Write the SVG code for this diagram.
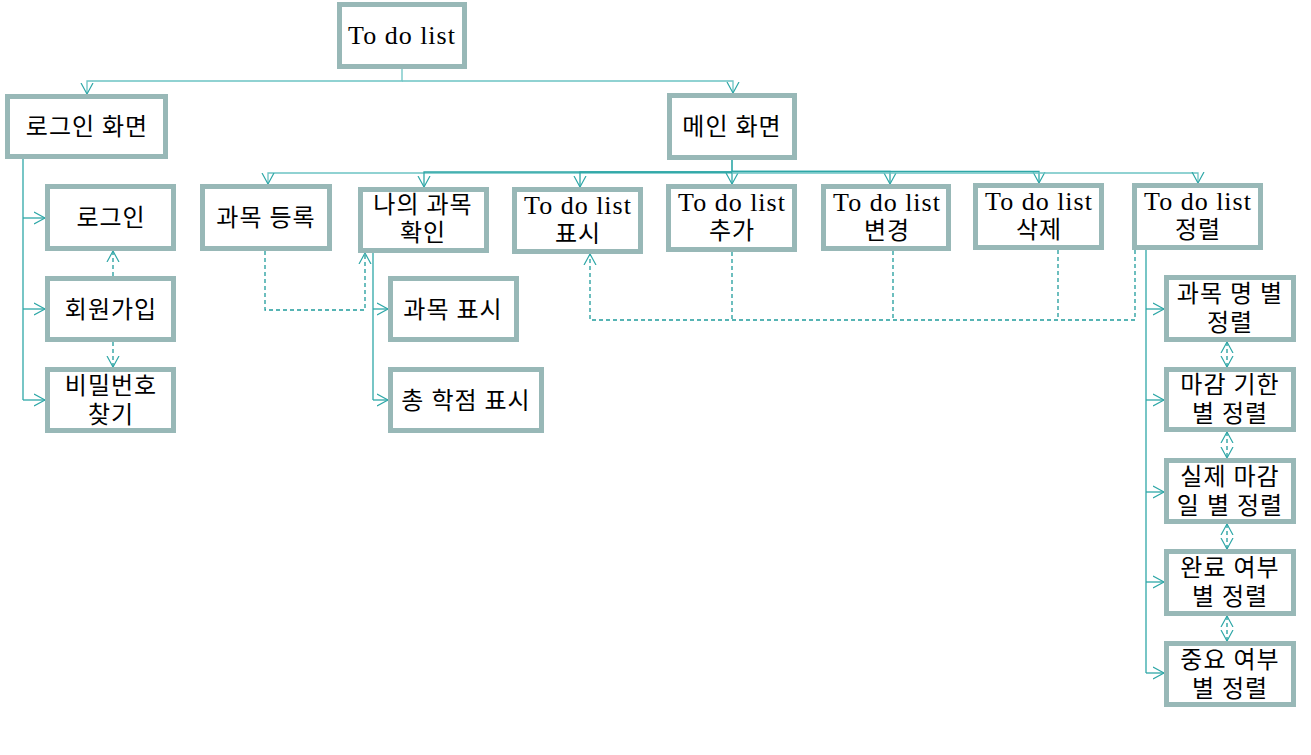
<svg xmlns="http://www.w3.org/2000/svg" width="1311" height="755" viewBox="0 0 1311 755">
<style>
.box{fill:#fff;stroke:#98b8b7;stroke-width:5;}
.t{font-family:"Liberation Serif","Noto Sans CJK KR",serif;font-size:24px;fill:#000;text-anchor:middle;}
.l{font-size:26px;letter-spacing:1px;}
.k{letter-spacing:1px;}
.c{fill:none;stroke:#2ea7a7;stroke-width:1.3;}
.lt{stroke:#6cc4c4;}
.d{fill:none;stroke:#1f9c9c;stroke-width:1.3;stroke-dasharray:4 3;}
</style>
<defs>
<marker id="a" markerUnits="userSpaceOnUse" markerWidth="14" markerHeight="14" refX="11" refY="6" orient="auto-start-reverse" viewBox="0 0 14 12">
<path d="M0,0 L11,6 L0,12" fill="none" stroke="#2ea7a7" stroke-width="1.2"/>
</marker>
</defs>
<g id="connectors">
<path class="c lt" d="M402,69 V81 H87 V94" marker-end="url(#a)"/>
<path class="c lt" d="M402,81 H733 V93" marker-end="url(#a)"/>
<path class="c lt" d="M732,160 V173 H268 V184" marker-end="url(#a)"/>
<path class="c" d="M732,172 H424 V187" marker-end="url(#a)"/>
<path class="c" d="M732,172 H580 V187" marker-end="url(#a)"/>
<path class="c" d="M732,160 V184" marker-end="url(#a)"/>
<path class="c" d="M732,171.5 H890 V184" marker-end="url(#a)"/>
<path class="c" d="M732,171.5 H1039 V183" marker-end="url(#a)"/>
<path class="c lt" d="M732,173 H1198 V183" marker-end="url(#a)"/>
<path class="c" d="M23,159 V400"/>
<path class="c" d="M23,218 H45" marker-end="url(#a)"/>
<path class="c" d="M23,309 H45" marker-end="url(#a)"/>
<path class="c" d="M23,400 H45" marker-end="url(#a)"/>
<path class="d" d="M113,276 V251" marker-end="url(#a)"/>
<path class="d" d="M113,342 V367" marker-end="url(#a)"/>
<path class="d" d="M265,251 V310 H365 V253" marker-end="url(#a)"/>
<path class="c" d="M373,253 V400"/>
<path class="c" d="M373,309 H388" marker-end="url(#a)"/>
<path class="c" d="M373,400 H388" marker-end="url(#a)"/>
<path class="d" d="M732,252 V320"/>
<path class="d" d="M893,251 V320"/>
<path class="d" d="M1058,250 V320"/>
<path class="d" d="M1135,250 V320 H590 V254" marker-end="url(#a)"/>
<path class="c" d="M1146,250 V673"/>
<path class="c" d="M1146,309 H1164" marker-end="url(#a)"/>
<path class="c" d="M1146,400 H1164" marker-end="url(#a)"/>
<path class="c" d="M1146,492 H1164" marker-end="url(#a)"/>
<path class="c" d="M1146,582 H1164" marker-end="url(#a)"/>
<path class="c" d="M1146,673 H1164" marker-end="url(#a)"/>
<path class="d" d="M1227,342 V367" marker-start="url(#a)" marker-end="url(#a)"/>
<path class="d" d="M1227,432 V458" marker-start="url(#a)" marker-end="url(#a)"/>
<path class="d" d="M1227,524 V549" marker-start="url(#a)" marker-end="url(#a)"/>
<path class="d" d="M1227,616 V641" marker-start="url(#a)" marker-end="url(#a)"/>
</g>
<g id="root"><rect class="box" x="339.5" y="4.5" width="125" height="62"/><text class="t l" x="402" y="44">To do list</text></g>
<g id="login-screen"><rect class="box" x="7.5" y="96.5" width="158" height="60"/><text class="t k" x="87" y="135">로그인 화면</text></g>
<g id="main-screen"><rect class="box" x="669.5" y="95.5" width="125" height="62"/><text class="t k" x="732" y="135">메인 화면</text></g>
<g id="login"><rect class="box" x="47.5" y="186.5" width="126" height="62"/><text class="t k" x="111" y="226">로그인</text></g>
<g id="signup"><rect class="box" x="47.5" y="278.5" width="126" height="61"/><text class="t k" x="111" y="318">회원가입</text></g>
<g id="find-pw"><rect class="box" x="47.5" y="369.5" width="126" height="61"/><text class="t k" x="111" y="394">비밀번호</text><text class="t k" x="111" y="423">찾기</text></g>
<g id="course-reg"><rect class="box" x="202.5" y="186.5" width="127" height="62"/><text class="t k" x="266" y="226">과목 등록</text></g>
<g id="my-course"><rect class="box" x="360.5" y="189.5" width="126" height="61"/><text class="t k" x="423" y="213">나의 과목</text><text class="t k" x="423" y="241">확인</text></g>
<g id="course-show"><rect class="box" x="390.5" y="278.5" width="126" height="61"/><text class="t k" x="453" y="318">과목 표시</text></g>
<g id="credit-show"><rect class="box" x="390.5" y="369.5" width="151" height="61"/><text class="t k" x="466" y="409">총 학점 표시</text></g>
<g id="todo-show"><rect class="box" x="514.5" y="189.5" width="126" height="62"/><text class="t l" x="578" y="214">To do list</text><text class="t k" x="578" y="242">표시</text></g>
<g id="todo-add"><rect class="box" x="668.5" y="186.5" width="126" height="63"/><text class="t l" x="732" y="211">To do list</text><text class="t k" x="732" y="239">추가</text></g>
<g id="todo-edit"><rect class="box" x="823.5" y="186.5" width="125" height="62"/><text class="t l" x="887" y="211">To do list</text><text class="t k" x="887" y="239">변경</text></g>
<g id="todo-del"><rect class="box" x="975.5" y="185.5" width="126" height="62"/><text class="t l" x="1039" y="210">To do list</text><text class="t k" x="1039" y="238">삭제</text></g>
<g id="todo-sort"><rect class="box" x="1134.5" y="185.5" width="126" height="62"/><text class="t l" x="1198" y="210">To do list</text><text class="t k" x="1198" y="238">정렬</text></g>
<g id="sort-name"><rect class="box" x="1166.5" y="277.5" width="127" height="62"/><text class="t k" x="1230" y="302">과목 명 별</text><text class="t k" x="1230" y="331">정렬</text></g>
<g id="sort-deadline"><rect class="box" x="1166.5" y="369.5" width="127" height="60"/><text class="t k" x="1230" y="393">마감 기한</text><text class="t k" x="1230" y="422">별 정렬</text></g>
<g id="sort-actual"><rect class="box" x="1166.5" y="460.5" width="127" height="61"/><text class="t k" x="1230" y="485">실제 마감</text><text class="t k" x="1230" y="514">일 별 정렬</text></g>
<g id="sort-done"><rect class="box" x="1166.5" y="551.5" width="127" height="62"/><text class="t k" x="1230" y="576">완료 여부</text><text class="t k" x="1230" y="605">별 정렬</text></g>
<g id="sort-important"><rect class="box" x="1166.5" y="643.5" width="127" height="61"/><text class="t k" x="1230" y="668">중요 여부</text><text class="t k" x="1230" y="697">별 정렬</text></g>
</svg>
